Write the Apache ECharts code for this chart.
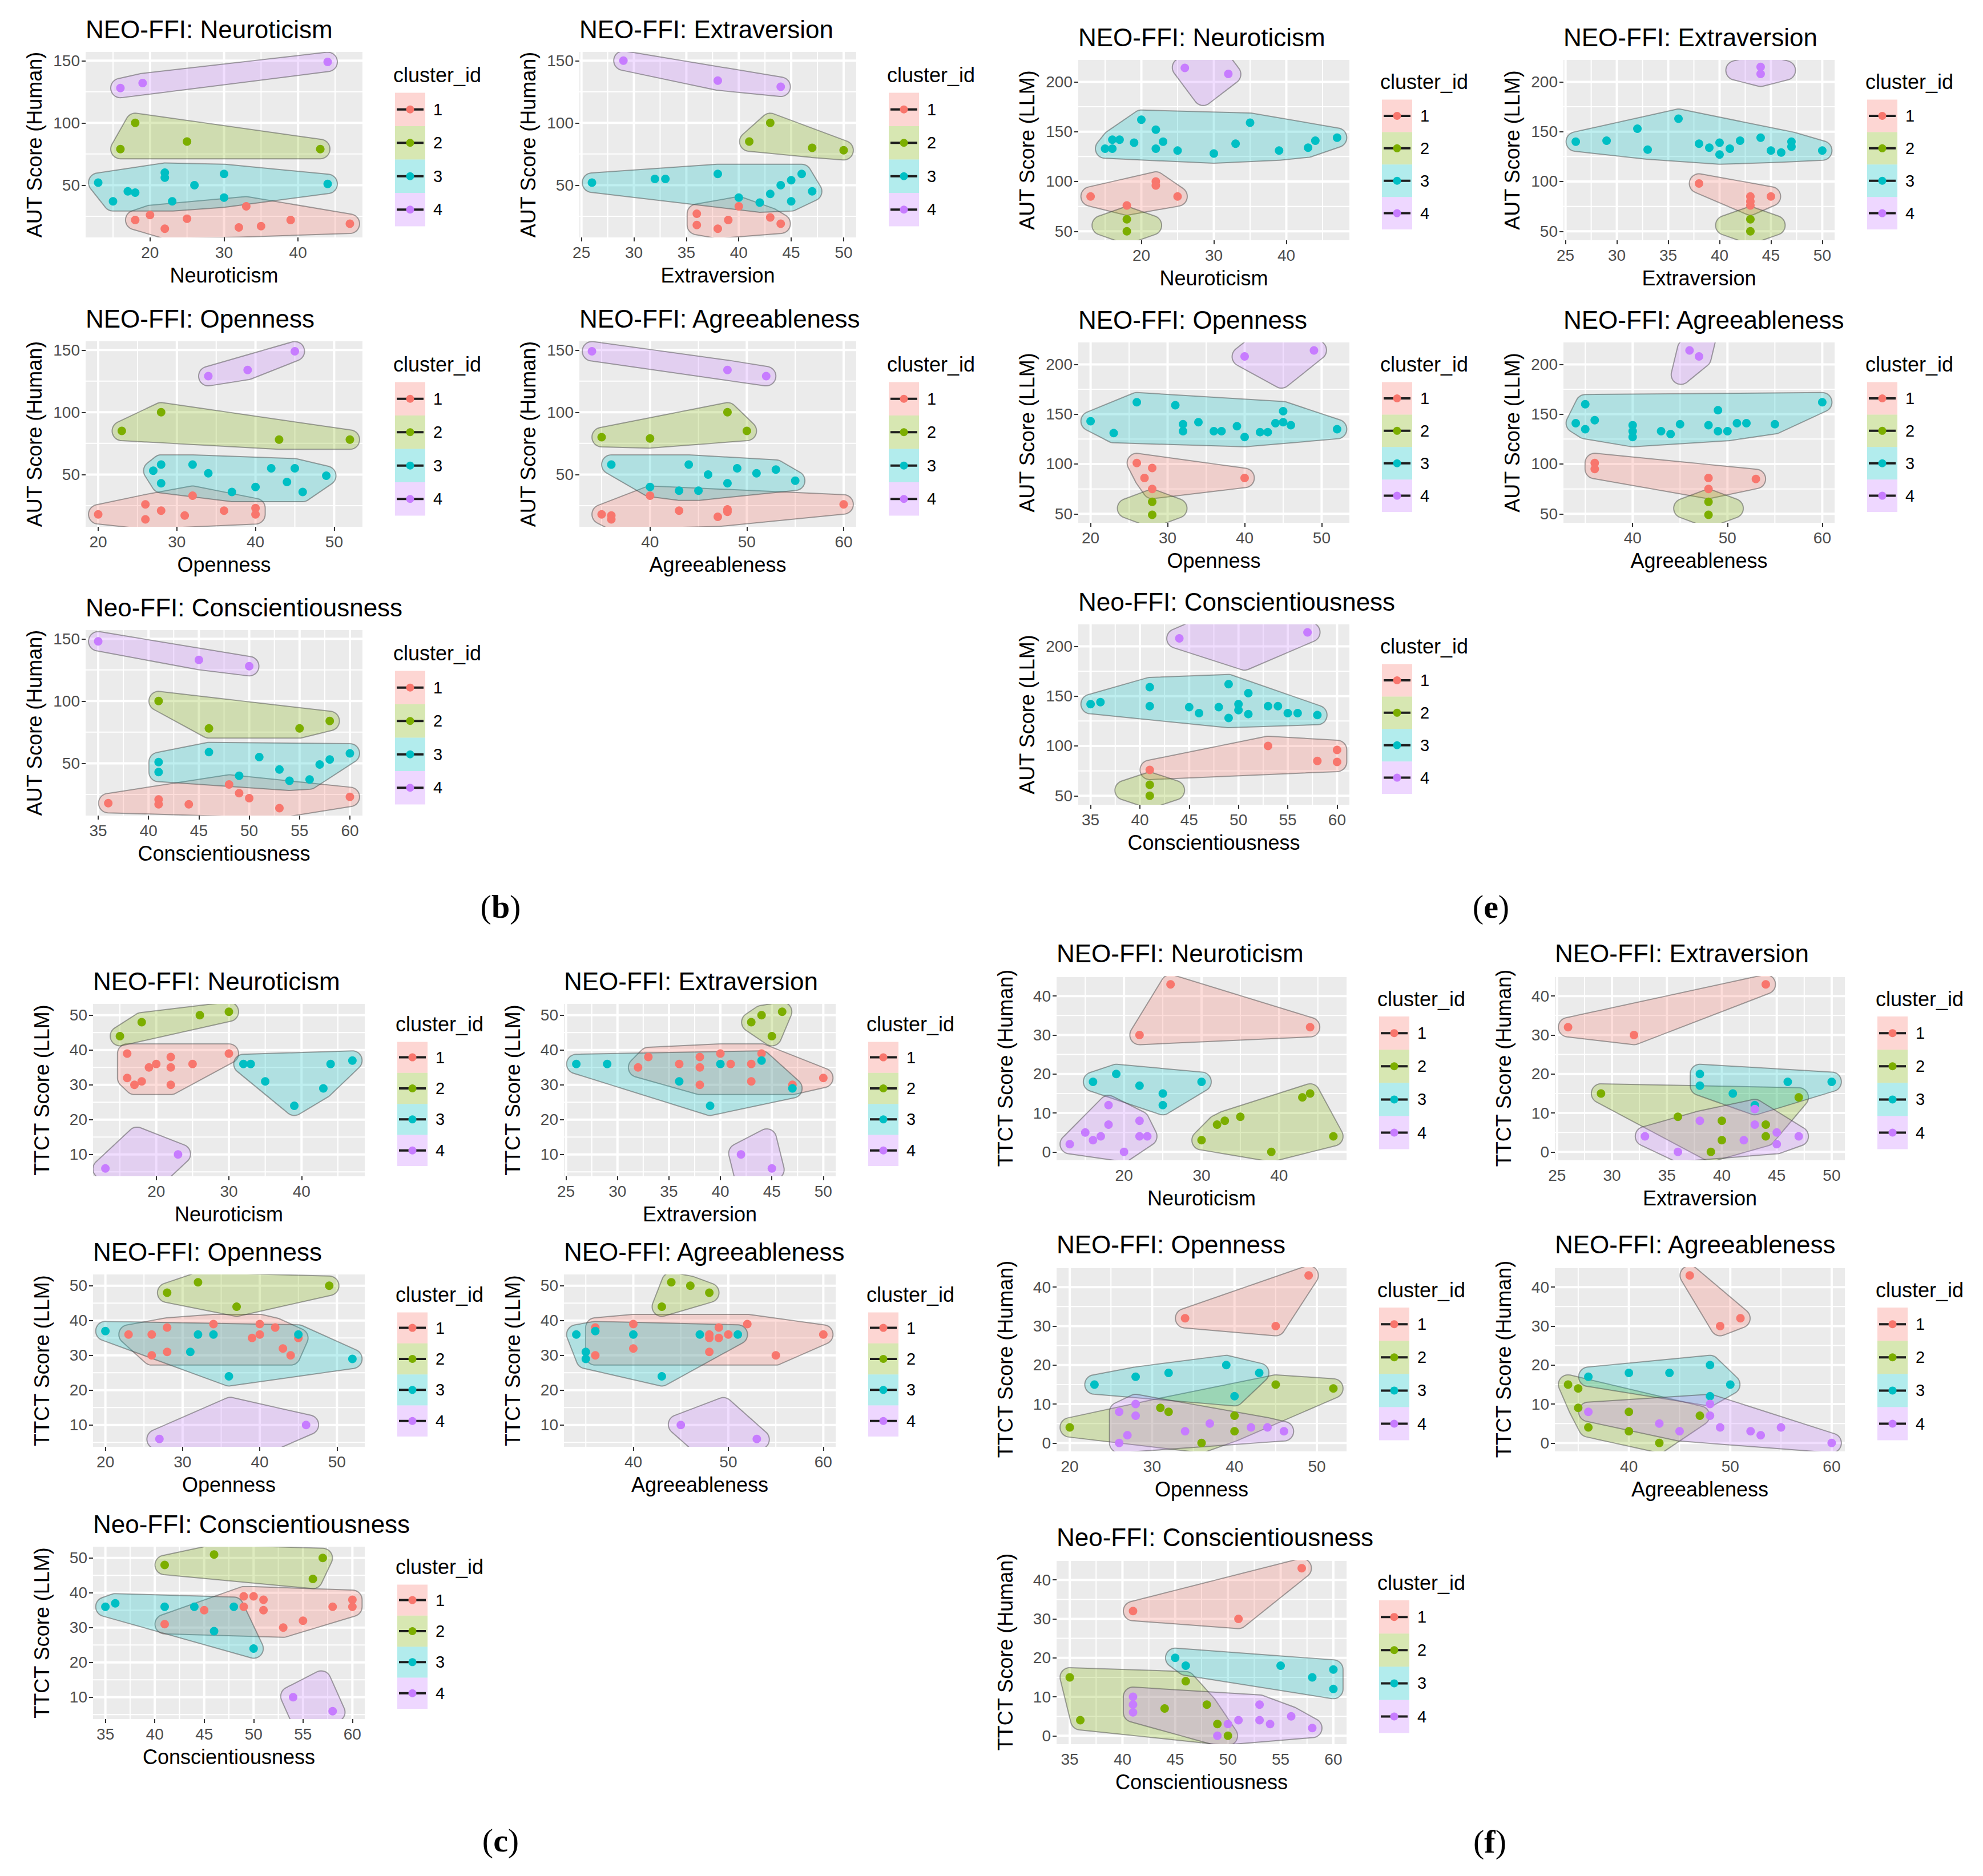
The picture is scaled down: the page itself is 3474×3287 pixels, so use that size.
<!DOCTYPE html>
<html>
<head>
<meta charset="utf-8">
<script src="https://cdn.jsdelivr.net/npm/echarts@6/dist/echarts.min.js"></script>
<style>
  html, body { margin: 0; padding: 0; background: #fff; }
  #chart { width: 3474px; height: 3287px; }
</style>
</head>
<body>
<div id="chart"></div>
<script>
const FONT = '"Liberation Sans", Arial, Helvetica, sans-serif';
const SERIF = '"Liberation Serif", "Times New Roman", serif';

const clusterIds = [1, 2, 3, 4];
const clusterColors = ['#F8766D', '#7CAE00', '#00BFC4', '#C77CFF'];

const traitNames = ['Neuroticism', 'Extraversion', 'Openness', 'Agreeableness', 'Conscientiousness'];
const traitTitles = ['NEO-FFI: Neuroticism', 'NEO-FFI: Extraversion', 'NEO-FFI: Openness',
  'NEO-FFI: Agreeableness', 'Neo-FFI: Conscientiousness'];

// x limits and breaks per trait
const xRangeNeuro = [11.3, 48.7];
const xRangeExtra = [24.8, 51.2];
const xRangeOpen = [18.4, 53.6];
const xRangeAgree = [32.7, 61.3];
const xRangeConsc = [33.75, 61.25];
const xTicksNeuro = [20, 30, 40];
const xTicksExtra = [25, 30, 35, 40, 45, 50];
const xTicksOpen = [20, 30, 40, 50];
const xTicksAgree = [40, 50, 60];
const xTicksConsc = [35, 40, 45, 50, 55, 60];

// y limits and breaks per score
const yRangeAutHuman = [8, 157];
const yTicksAutHuman = [50, 100, 150];
const yRangeAutLLM = [41, 222];
const yTicksAutLLM = [50, 100, 150, 200];
const yRangeTtctLLM = [3.75, 53.25];
const yTicksTtctLLM = [10, 20, 30, 40, 50];
const yRangeTtctHuman = [-2.15, 45.15];
const yTicksTtctHuman = [0, 10, 20, 30, 40];

// points: [trait score, creativity score, cluster_id]
const b_neuroticism = [
  [16,128,4],[19,132,4],[44,149,4],
  [18,100,2],[25,85,2],[16,79,2],[43,79,2],
  [13,52,3],[22,60,3],[22,56,3],[30,59,3],[44,51,3],[26,50,3],[17,45,3],[18,44,3],[15,37,3],[23,37,3],[30,40,3],
  [33,33,1],[20,26,1],[25,23,1],[18,22,1],[39,22,1],[32,16,1],[35,17,1],[22,15,1],[47,19,1]
];
const b_extraversion = [
  [29,150,4],[38,134,4],[44,129,4],
  [43,100,2],[41,85,2],[47,80,2],[50,78,2],
  [26,52,3],[32,55,3],[33,55,3],[38,59,3],[46,59,3],[45,54,3],[44,50,3],[47,45,3],[43,43,3],[40,40,3],[42,36,3],[45,37,3],
  [40,33,1],[36,27,1],[39,22,1],[43,24,1],[44,19,1],[36,18,1],[38,15,1]
];
const b_openness = [
  [45,149,4],[39,134,4],[34,129,4],
  [28,100,2],[23,85,2],[43,78,2],[52,78,2],
  [28,58,3],[32,58,3],[27,53,3],[34,51,3],[42,55,3],[45,55,3],[49,49,3],[44,44,3],[28,43,3],[40,40,3],[37,36,3],[46,36,3],
  [32,33,1],[26,26,1],[28,21,1],[20,18,1],[31,17,1],[36,21,1],[40,23,1],[40,18,1],[26,14,1]
];
const b_agreeableness = [
  [34,149,4],[48,134,4],[52,129,4],
  [48,100,2],[50,85,2],[35,80,2],[40,79,2],
  [36,58,3],[44,58,3],[49,55,3],[53,54,3],[51,51,3],[46,50,3],[55,45,3],[48,43,3],[40,40,3],[43,37,3],[45,37,3],
  [40,33,1],[60,26,1],[48,22,1],[43,21,1],[35,18,1],[36,17,1],[36,14,1],[47,16,1],[48,20,1]
];
const b_conscientiousness = [
  [35,148,4],[45,133,4],[50,128,4],
  [41,100,2],[58,84,2],[46,78,2],[55,78,2],
  [46,59,3],[60,58,3],[51,55,3],[58,53,3],[57,49,3],[41,51,3],[41,43,3],[53,45,3],[49,40,3],[54,36,3],[56,37,3],
  [48,33,1],[49,26,1],[50,22,1],[60,23,1],[41,21,1],[41,17,1],[36,18,1],[44,17,1],[53,14,1]
];

const e_neuroticism = [
  [26,214,4],[32,208,4],
  [20,162,3],[35,159,3],[22,152,3],[47,144,3],[16,142,3],[17,142,3],[19,139,3],[23,140,3],[44,141,3],[33,138,3],
  [15,133,3],[16,133,3],[22,133,3],[25,131,3],[39,131,3],[43,134,3],[30,128,3],
  [22,100,1],[22,96,1],[13,85,1],[25,85,1],[18,76,1],
  [18,62,2],[18,50,2]
];
const e_extraversion = [
  [44,215,4],[44,208,4],
  [36,163,3],[32,153,3],[26,140,3],[29,141,3],[33,132,3],[38,138,3],[39,134,3],[40,139,3],[40,127,3],[41,133,3],
  [42,141,3],[44,144,3],[45,131,3],[46,129,3],[47,140,3],[47,135,3],[50,131,3],
  [38,98,1],[43,85,1],[45,85,1],[43,80,1],[43,76,1],
  [43,62,2],[43,50,2]
];
const e_openness = [
  [49,214,4],[40,208,4],
  [26,162,3],[31,159,3],[45,153,3],[20,143,3],[23,131,3],[32,140,3],[32,133,3],[34,142,3],[36,133,3],[37,133,3],
  [39,138,3],[40,127,3],[42,132,3],[43,132,3],[44,141,3],[45,142,3],[46,139,3],[52,135,3],
  [26,101,1],[28,96,1],[27,86,1],[40,86,1],[28,75,1],
  [28,62,2],[28,49,2]
];
const e_agreeableness = [
  [46,214,4],[47,208,4],
  [35,160,3],[60,162,3],[49,154,3],[34,141,3],[36,144,3],[35,135,3],[40,139,3],[40,133,3],[40,127,3],[43,133,3],
  [44,130,3],[45,140,3],[48,139,3],[49,133,3],[50,133,3],[51,141,3],[52,141,3],[55,140,3],
  [36,101,1],[36,95,1],[48,86,1],[53,85,1],[48,75,1],
  [48,62,2],[48,49,2]
];
const e_conscientiousness = [
  [44,208,4],[57,214,4],
  [35,142,3],[36,144,3],[41,159,3],[41,140,3],[49,162,3],[51,153,3],[45,139,3],[46,133,3],[48,139,3],[49,128,3],
  [50,142,3],[50,136,3],[51,132,3],[53,140,3],[54,140,3],[55,133,3],[56,133,3],[58,131,3],
  [53,100,1],[60,96,1],[60,84,1],[58,85,1],[41,76,1],
  [41,61,2],[41,50,2]
];

const c_neuroticism = [
  [15,44,2],[18,48,2],[26,50,2],[30,51,2],
  [16,39,1],[30,39,1],[22,38,1],[20,36,1],[25,36,1],[19,35,1],[22,35,1],[16,32,1],[18,31,1],[17,30,1],[22,30,1],
  [32,36,3],[33,36,3],[44,36,3],[47,37,3],[35,31,3],[43,29,3],[39,24,3],
  [23,10,4],[13,6,4]
];
const c_extraversion = [
  [43,48,2],[44,50,2],[46,51,2],[45,44,2],
  [40,39,1],[44,39,1],[33,38,1],[38,38,1],[32,35,1],[36,36,1],[38,35,1],[41,36,1],[43,36,1],[43,31,1],[38,30,1],
  [47,30,1],[50,32,1],
  [26,36,3],[29,36,3],[40,36,3],[44,37,3],[36,31,3],[47,29,3],[39,24,3],
  [42,10,4],[45,6,4]
];
const c_openness = [
  [32,51,2],[49,50,2],[28,48,2],[37,44,2],
  [34,39,1],[40,39,1],[42,38,1],[28,38,1],[23,36,1],[26,36,1],[40,36,1],[39,35,1],[45,35,1],[43,32,1],[28,31,1],
  [26,30,1],[44,30,1],
  [20,37,3],[32,36,3],[34,36,3],[45,36,3],[31,31,3],[52,29,3],[36,24,3],
  [46,10,4],[27,6,4]
];
const c_agreeableness = [
  [44,51,2],[46,50,2],[48,48,2],[43,44,2],
  [40,39,1],[52,39,1],[36,38,1],[49,38,1],[48,36,1],[50,36,1],[60,36,1],[49,35,1],[48,35,1],[40,32,1],[48,31,1],
  [36,30,1],[55,30,1],
  [34,36,3],[36,37,3],[40,36,3],[47,36,3],[51,36,3],[35,31,3],[35,29,3],[43,24,3],
  [45,10,4],[53,6,4]
];
const c_conscientiousness = [
  [46,51,2],[57,50,2],[41,48,2],[56,44,2],
  [49,39,1],[50,39,1],[51,38,1],[60,38,1],[45,35,1],[49,36,1],[51,35,1],[58,36,1],[60,36,1],[55,32,1],[53,30,1],
  [41,31,1],
  [35,36,3],[36,37,3],[41,36,3],[44,36,3],[48,36,3],[46,29,3],[50,24,3],
  [54,10,4],[58,6,4]
];

const f_neuroticism = [
  [26,43,1],[44,32,1],[22,30,1],
  [19,20,3],[16,18,3],[30,18,3],[22,17,3],[25,15,3],[25,12,3],
  [44,15,2],[43,14,2],[35,9,2],[33,8,2],[32,7,2],[30,3,2],[47,4,2],[39,0,2],
  [18,12,4],[18,7,4],[22,8,4],[15,5,4],[17,4,4],[16,3,4],[22,4,4],[23,4,4],[13,2,4],[20,0,4]
];
const f_extraversion = [
  [44,43,1],[26,32,1],[32,30,1],
  [38,20,3],[38,17,3],[46,18,3],[50,18,3],[41,15,3],[43,12,3],
  [29,15,2],[47,14,2],[36,9,2],[40,8,2],[44,7,2],[40,3,2],[44,4,2],[39,0,2],
  [43,11,4],[38,8,4],[43,7,4],[45,5,4],[47,4,4],[33,4,4],[42,3,4],[45,2,4],[36,0,4]
];
const f_openness = [
  [49,43,1],[34,32,1],[45,30,1],
  [39,20,3],[28,17,3],[32,18,3],[43,18,3],[23,15,3],[40,12,3],
  [45,15,2],[52,14,2],[31,9,2],[32,8,2],[40,7,2],[20,4,2],[40,3,2],[36,0,2],
  [28,10,4],[26,8,4],[28,7,4],[37,5,4],[42,4,4],[44,4,4],[46,3,4],[34,3,4],[27,2,4],[26,0,4]
];
const f_agreeableness = [
  [46,43,1],[51,32,1],[49,30,1],
  [48,20,3],[36,17,3],[40,18,3],[44,18,3],[50,15,3],[48,12,3],
  [34,15,2],[35,14,2],[35,9,2],[40,8,2],[47,7,2],[36,4,2],[40,3,2],[43,0,2],
  [48,10,4],[36,8,4],[48,7,4],[43,5,4],[49,4,4],[52,3,4],[53,2,4],[55,4,4],[45,3,4],[60,0,4]
];
const f_conscientiousness = [
  [57,43,1],[41,32,1],[51,30,1],
  [45,20,3],[46,18,3],[55,18,3],[60,17,3],[58,15,3],[60,12,3],
  [35,15,2],[46,14,2],[48,8,2],[44,7,2],[36,4,2],[49,3,2],[50,0,2],
  [41,10,4],[41,8,4],[41,6,4],[53,8,4],[56,5,4],[51,4,4],[53,4,4],[54,3,4],[50,3,4],[58,2,4],[49,0,4]
];

const xRanges = [xRangeNeuro, xRangeExtra, xRangeOpen, xRangeAgree, xRangeConsc];
const xTicks = [xTicksNeuro, xTicksExtra, xTicksOpen, xTicksAgree, xTicksConsc];

// one block per figure part; positions in px on the 3474x3287 page
const parts = [
  { letter: 'b', yName: 'AUT Score (Human)', yRange: yRangeAutHuman, yTicks: yTicksAutHuman,
    data: [b_neuroticism, b_extraversion, b_openness, b_agreeableness, b_conscientiousness],
    lefts: [150, 1015], width: 485, tops: [91, 598, 1104], height: 325, letterAt: [877, 1588] },
  { letter: 'e', yName: 'AUT Score (LLM)', yRange: yRangeAutLLM, yTicks: yTicksAutLLM,
    data: [e_neuroticism, e_extraversion, e_openness, e_agreeableness, e_conscientiousness],
    lefts: [1889, 2739], width: 475, tops: [105, 600, 1094], height: 316, letterAt: [2612, 1588] },
  { letter: 'c', yName: 'TTCT Score (LLM)', yRange: yRangeTtctLLM, yTicks: yTicksTtctLLM,
    data: [c_neuroticism, c_extraversion, c_openness, c_agreeableness, c_conscientiousness],
    lefts: [163, 988], width: 476, tops: [1759, 2233, 2710], height: 302, letterAt: [877, 3224] },
  { letter: 'f', yName: 'TTCT Score (Human)', yRange: yRangeTtctHuman, yTicks: yTicksTtctHuman,
    data: [f_neuroticism, f_extraversion, f_openness, f_agreeableness, f_conscientiousness],
    lefts: [1851, 2724], width: 508, tops: [1710, 2220, 2733], height: 323, letterAt: [2610, 3226] },
];

const HULL_R = 17;
const HULL_PAD = 44;

const withAlpha = (hex, a) => {
  const n = parseInt(hex.slice(1), 16);
  return `rgba(${(n >> 16) & 255},${(n >> 8) & 255},${n & 255},${a})`;
};

const minorBreaks = (ticks, range) => {
  const step = ticks[1] - ticks[0];
  const out = [];
  for (let v = ticks[0] - step / 2; v > range[0]; v -= step) out.push(v);
  for (let v = ticks[0] + step / 2; v < range[1]; v += step) out.push(v);
  return out;
};

const convexHull = (pts) => {
  const p = pts.slice().sort((a, b) => a[0] - b[0] || a[1] - b[1]);
  const cross = (o, a, b) => (a[0] - o[0]) * (b[1] - o[1]) - (a[1] - o[1]) * (b[0] - o[0]);
  const lower = [];
  p.forEach(q => {
    while (lower.length >= 2 && cross(lower[lower.length - 2], lower[lower.length - 1], q) <= 0) lower.pop();
    lower.push(q);
  });
  const upper = [];
  for (let i = p.length - 1; i >= 0; i--) {
    const q = p[i];
    while (upper.length >= 2 && cross(upper[upper.length - 2], upper[upper.length - 1], q) <= 0) upper.pop();
    upper.push(q);
  }
  upper.pop();
  lower.pop();
  return lower.concat(upper);
};

// expanded, rounded hull around pixel points (roughly what geom_mark_hull draws)
const hullOutline = (pts) => {
  let hull = convexHull(pts);
  if (hull.length <= 2) {
    // two-point groups get a rounded diamond, widest across the middle
    const a = hull[0], b = hull[hull.length - 1];
    let dx = b[0] - a[0], dy = b[1] - a[1];
    let len = Math.hypot(dx, dy);
    if (len < 1) { dx = 0; dy = 1; len = 1; }
    const mx = (a[0] + b[0]) / 2, my = (a[1] + b[1]) / 2;
    const nx = -dy / len * HULL_PAD, ny = dx / len * HULL_PAD;
    const ux = dx / len * 5, uy = dy / len * 5;
    hull = convexHull([
      [a[0] - ux, a[1] - uy], [b[0] + ux, b[1] + uy],
      [mx + nx, my + ny], [mx - nx, my - ny],
    ]);
  }
  let area = 0;
  hull.forEach((p, i) => {
    const q = hull[(i + 1) % hull.length];
    area += p[0] * q[1] - q[0] * p[1];
  });
  const sgn = area > 0 ? 1 : -1;
  const normal = (p, q) => {
    const dx = q[0] - p[0], dy = q[1] - p[1], l = Math.hypot(dx, dy) || 1;
    return [sgn * dy / l, -sgn * dx / l];
  };
  const out = [];
  const n = hull.length;
  for (let i = 0; i < n; i++) {
    const prev = hull[(i - 1 + n) % n], cur = hull[i], next = hull[(i + 1) % n];
    const n1 = normal(prev, cur), n2 = normal(cur, next);
    const a1 = Math.atan2(n1[1], n1[0]);
    let d = Math.atan2(n2[1], n2[0]) - a1;
    while (d > Math.PI) d -= 2 * Math.PI;
    while (d < -Math.PI) d += 2 * Math.PI;
    const steps = Math.max(2, Math.ceil(Math.abs(d) / 0.15));
    for (let k = 0; k <= steps; k++) {
      const ang = a1 + d * k / steps;
      out.push([cur[0] + HULL_R * Math.cos(ang), cur[1] + HULL_R * Math.sin(ang)]);
    }
  }
  return out;
};

const grids = [];
const xAxes = [];
const yAxes = [];
const series = [];
const graphics = [];

const tickLabel = { fontSize: 28, color: '#4D4D4D', fontFamily: FONT };
const tickLine = { show: true, length: 7, lineStyle: { color: '#333333', width: 2 } };

parts.forEach(part => {
  traitNames.forEach((trait, t) => {
    const idx = grids.length;
    const row = Math.floor(t / 2);
    const col = t % 2;
    const left = part.lefts[col];
    const top = part.tops[row];
    const w = part.width;
    const h = part.height;
    const xr = xRanges[t];
    const yr = part.yRange;
    const pts = part.data[t];

    grids.push({ left, top, width: w, height: h, show: true, backgroundColor: '#EBEBEB', borderWidth: 0 });

    xAxes.push({
      gridIndex: idx, type: 'value', min: xr[0], max: xr[1],
      name: trait, nameLocation: 'middle', nameGap: 48,
      nameTextStyle: { fontSize: 36, color: '#000', fontFamily: FONT },
      axisLine: { show: false },
      axisTick: Object.assign({ customValues: xTicks[t] }, tickLine),
      axisLabel: Object.assign({ customValues: xTicks[t], margin: 12 }, tickLabel),
      splitLine: { show: false },
    });
    yAxes.push({
      gridIndex: idx, type: 'value', min: yr[0], max: yr[1],
      name: part.yName, nameLocation: 'middle', nameRotate: 90, nameGap: 72,
      nameTextStyle: { fontSize: 36, color: '#000', fontFamily: FONT },
      axisLine: { show: false },
      axisTick: Object.assign({ customValues: part.yTicks }, tickLine),
      axisLabel: Object.assign({ customValues: part.yTicks, margin: 10 }, tickLabel),
      splitLine: { show: false },
    });

    // panel grid lines (major + minor), drawn under everything else
    const xMinor = minorBreaks(xTicks[t], xr);
    const yMinor = minorBreaks(part.yTicks, yr);
    series.push({
      type: 'custom', xAxisIndex: idx, yAxisIndex: idx, z: 1, silent: true,
      data: [[xr[0], yr[0]]],
      renderItem: (params, api) => {
        const children = [];
        const add = (p1, p2, lw) => children.push({
          type: 'line', shape: { x1: p1[0], y1: p1[1], x2: p2[0], y2: p2[1] },
          style: { stroke: '#FFFFFF', lineWidth: lw },
        });
        yMinor.forEach(v => add(api.coord([xr[0], v]), api.coord([xr[1], v]), 2));
        xMinor.forEach(v => add(api.coord([v, yr[0]]), api.coord([v, yr[1]]), 2));
        part.yTicks.forEach(v => add(api.coord([xr[0], v]), api.coord([xr[1], v]), 4));
        xTicks[t].forEach(v => add(api.coord([v, yr[0]]), api.coord([v, yr[1]]), 4));
        return { type: 'group', children };
      },
    });

    // cluster hulls
    series.push({
      type: 'custom', xAxisIndex: idx, yAxisIndex: idx, z: 2, silent: true, clip: true,
      data: clusterIds.map(c => [xr[0], yr[0], c]),
      renderItem: (params, api) => {
        const c = api.value(2);
        const px = pts.filter(d => d[2] === c).map(d => api.coord([d[0], d[1]]));
        if (!px.length) return null;
        return {
          type: 'polygon',
          shape: { points: hullOutline(px) },
          style: { fill: withAlpha(clusterColors[c - 1], 0.25), stroke: 'rgba(60,60,60,0.45)', lineWidth: 2 },
        };
      },
    });

    series.push({
      type: 'scatter', xAxisIndex: idx, yAxisIndex: idx, z: 3, symbolSize: 15,
      data: pts,
      itemStyle: { color: (p) => clusterColors[p.data[2] - 1], opacity: 1 },
    });

    // plot title
    graphics.push({
      type: 'text', x: left, y: top - 40, silent: true,
      style: { text: traitTitles[t], fontSize: 44, fontFamily: FONT, fill: '#000', align: 'left', verticalAlign: 'middle' },
    });

    // cluster_id legend
    const keyH = h * 0.18;
    const keyW = 53;
    const lx = left + w + 57;
    const keysTop = top + h / 2 + 0.08 * h - 2 * keyH;
    graphics.push({
      type: 'text', x: lx - 3, y: keysTop - 31, silent: true,
      style: { text: 'cluster_id', fontSize: 36, fontFamily: FONT, fill: '#000', align: 'left', verticalAlign: 'middle' },
    });
    clusterIds.forEach((c, k) => {
      const ky = keysTop + k * keyH;
      graphics.push({
        type: 'rect', silent: true, shape: { x: lx, y: ky, width: keyW, height: keyH },
        style: { fill: withAlpha(clusterColors[k], 0.3) },
      });
      graphics.push({
        type: 'line', silent: true, shape: { x1: lx + 3, y1: ky + keyH / 2, x2: lx + keyW - 3, y2: ky + keyH / 2 },
        style: { stroke: '#1E1E1E', lineWidth: 4 },
      });
      graphics.push({
        type: 'circle', silent: true, shape: { cx: lx + keyW / 2, cy: ky + keyH / 2, r: 7 },
        style: { fill: clusterColors[k] },
      });
      graphics.push({
        type: 'text', x: lx + keyW + 14, y: ky + keyH / 2, silent: true,
        style: { text: String(c), fontSize: 29, fontFamily: FONT, fill: '#000', align: 'left', verticalAlign: 'middle' },
      });
    });
  });

  graphics.push({
    type: 'text', x: part.letterAt[0], y: part.letterAt[1], silent: true,
    style: {
      text: `{p|(}{l|${part.letter}}{p|)}`, align: 'center', verticalAlign: 'middle',
      rich: {
        p: { fontSize: 58, fontFamily: SERIF, fill: '#000' },
        l: { fontSize: 58, fontFamily: SERIF, fontWeight: 'bold', fill: '#000' },
      },
    },
  });
});

const chart = echarts.init(document.getElementById('chart'), null, { renderer: 'svg' });
chart.setOption({
  animation: false,
  backgroundColor: '#FFFFFF',
  textStyle: { fontFamily: FONT },
  grid: grids,
  xAxis: xAxes,
  yAxis: yAxes,
  series,
  graphic: { elements: graphics },
});
</script>
</body>
</html>
